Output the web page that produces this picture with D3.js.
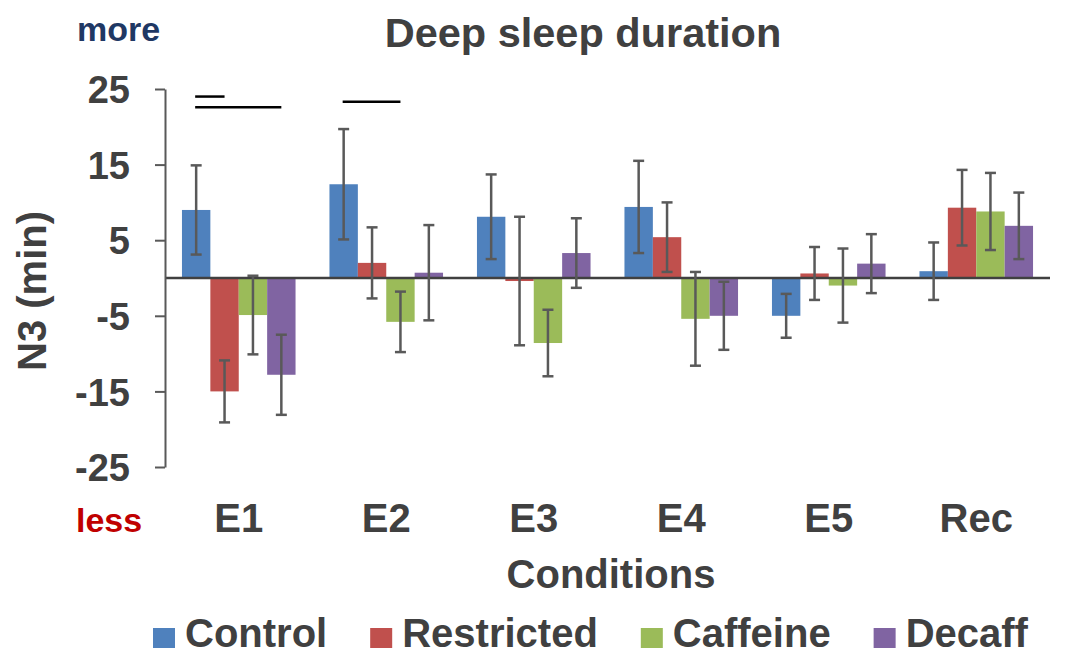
<!DOCTYPE html>
<html>
<head>
<meta charset="utf-8">
<script src="https://cdn.jsdelivr.net/npm/d3@7"></script>
<style>
  body { margin: 0; background: #fff; }
  text { font-family: "Liberation Sans", Arial, sans-serif; fill: #404040; }
</style>
</head>
<body>
<svg id="svg" width="1065" height="656"></svg>
<script>
const categories = ['E1', 'E2', 'E3', 'E4', 'E5', 'Rec'];
const seriesNames = ['Control', 'Restricted', 'Caffeine', 'Decaff'];
const control = [9.0, 12.4, 8.1, 9.4, -5.0, 0.9];
const controlErr = [5.9, 7.3, 5.6, 6.1, 2.9, 3.8];
const restricted = [-15.0, 2.0, -0.4, 5.4, 0.6, 9.3];
const restrictedErr = [4.1, 4.7, 8.5, 4.6, 3.5, 5.0];
const caffeine = [-4.9, -5.8, -8.6, -5.4, -1.0, 8.8];
const caffeineErr = [5.2, 4.0, 4.4, 6.2, 4.9, 5.1];
const decaff = [-12.8, 0.7, 3.3, -5.0, 1.9, 6.9];
const decaffErr = [5.3, 6.3, 4.6, 4.5, 3.9, 4.4];
const yTicks = [-25, -15, -5, 5, 15, 25];
// significance bars: from one bar centre to another, at a y value
const sigCats = ['E1', 'E1', 'E2'];
const sigFrom = ['Control', 'Control', 'Control'];
const sigTo = ['Restricted', 'Decaff', 'Caffeine'];
const sigValue = [24.0, 22.6, 23.3];

const colors = ['#4F81BD', '#C0504D', '#9BBB59', '#8064A2'];
const values = [control, restricted, caffeine, decaff];
const errors = [controlErr, restrictedErr, caffeineErr, decaffErr];

const rows = [];
categories.forEach((c, i) => {
  seriesNames.forEach((s, j) => {
    rows.push({ cat: c, series: s, value: values[j][i], err: errors[j][i], color: colors[j] });
  });
});

const svg = d3.select('#svg');
const left = 165, right = 1050;

const x0 = d3.scaleBand().domain(categories).range([left, right]).paddingInner(0.23).paddingOuter(0.115);
const x1 = d3.scaleBand().domain(seriesNames).range([0, x0.bandwidth()]);
const y = d3.scaleLinear().domain([-25, 25]).range([467, 89]);

// bars
svg.append('g').selectAll('rect').data(rows).enter().append('rect')
  .attr('x', (d) => x0(d.cat) + x1(d.series))
  .attr('width', x1.bandwidth())
  .attr('y', (d) => y(Math.max(0, d.value)))
  .attr('height', (d) => Math.abs(y(d.value) - y(0)))
  .attr('fill', (d) => d.color);

// zero line
svg.append('line')
  .attr('x1', left).attr('x2', right)
  .attr('y1', y(0)).attr('y2', y(0))
  .attr('stroke', '#404040').attr('stroke-width', 2.5);

// error bars
const eb = svg.append('g').attr('stroke', '#595959').attr('stroke-width', 2.5);
const cx = (d) => x0(d.cat) + x1(d.series) + x1.bandwidth() / 2;
eb.selectAll('line.v').data(rows).enter().append('line').attr('class', 'v')
  .attr('x1', cx).attr('x2', cx)
  .attr('y1', (d) => y(d.value + d.err)).attr('y2', (d) => y(d.value - d.err));
eb.selectAll('line.t').data(rows).enter().append('line').attr('class', 't')
  .attr('x1', (d) => cx(d) - 5.5).attr('x2', (d) => cx(d) + 5.5)
  .attr('y1', (d) => y(d.value + d.err)).attr('y2', (d) => y(d.value + d.err));
eb.selectAll('line.b').data(rows).enter().append('line').attr('class', 'b')
  .attr('x1', (d) => cx(d) - 5.5).attr('x2', (d) => cx(d) + 5.5)
  .attr('y1', (d) => y(d.value - d.err)).attr('y2', (d) => y(d.value - d.err));

// significance lines
svg.append('g').selectAll('line').data(sigValue).enter().append('line')
  .attr('x1', (d, i) => x0(sigCats[i]) + x1(sigFrom[i]) + x1.bandwidth() / 2 - 1)
  .attr('x2', (d, i) => x0(sigCats[i]) + x1(sigTo[i]) + x1.bandwidth() / 2)
  .attr('y1', (d) => y(d)).attr('y2', (d) => y(d))
  .attr('stroke', '#000').attr('stroke-width', 2.5);

// y axis
const yAxis = svg.append('g').attr('transform', 'translate(' + left + ',0)')
  .call(d3.axisLeft(y).tickValues(yTicks).tickFormat((d) => String(d))
    .tickSize(10).tickPadding(25).tickSizeOuter(0));
yAxis.select('.domain').attr('stroke', '#595959').attr('stroke-width', 2);
yAxis.selectAll('.tick line').attr('stroke', '#595959').attr('stroke-width', 2);
yAxis.selectAll('.tick text')
  .attr('fill', '#404040').attr('font-size', 38).attr('font-weight', 'bold')
  .attr('font-family', '"Liberation Sans", Arial, sans-serif')
  .attr('dy', '0.36em');

// category labels
svg.append('g').selectAll('text').data(categories).enter().append('text')
  .attr('x', (d) => x0(d) + x0.bandwidth() / 2)
  .attr('y', 532)
  .attr('text-anchor', 'middle')
  .attr('font-size', 40).attr('font-weight', 'bold')
  .text((d) => d);

// titles
svg.append('text').attr('x', 583).attr('y', 47).attr('text-anchor', 'middle')
  .attr('font-size', 41.5).attr('font-weight', 'bold').text('Deep sleep duration');
svg.append('text').attr('x', 611).attr('y', 588).attr('text-anchor', 'middle')
  .attr('font-size', 40).attr('font-weight', 'bold').text('Conditions');
svg.append('text').attr('transform', 'translate(46,291) rotate(-90)').attr('text-anchor', 'middle')
  .attr('font-size', 40).attr('font-weight', 'bold').text('N3 (min)');
svg.append('text').attr('x', 77).attr('y', 41)
  .attr('font-size', 34).attr('font-weight', 'bold').style('fill', '#1F3864').text('more');
svg.append('text').attr('x', 76).attr('y', 532)
  .attr('font-size', 34).attr('font-weight', 'bold').style('fill', '#C00000').text('less');

// legend
let lx = 153;
seriesNames.forEach((s, j) => {
  const item = svg.append('g');
  item.append('rect').attr('x', lx).attr('y', 628).attr('width', 22).attr('height', 20).attr('fill', colors[j]);
  const t = item.append('text').attr('x', lx + 32).attr('y', 647)
    .attr('font-size', 40).attr('font-weight', 'bold').text(s);
  lx += 32 + t.node().getComputedTextLength() + 43;
});
</script>
</body>
</html>
